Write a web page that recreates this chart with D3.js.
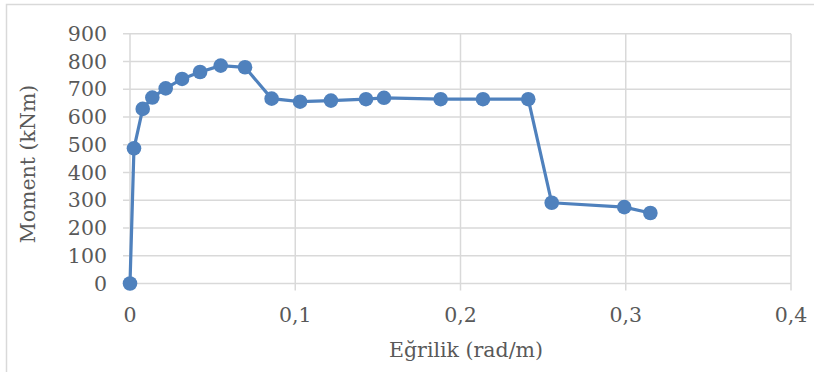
<!DOCTYPE html>
<html>
<head>
<meta charset="utf-8">
<script src="https://cdn.jsdelivr.net/npm/d3@7"></script>
<style>
  body { margin: 0; background: #fff; }
  text { font-family: "DejaVu Serif", "Liberation Serif", serif; fill: #595959; }
</style>
</head>
<body>
<svg id="chart" width="814" height="372"></svg>
<script>
// curvature (rad/m) and moment (kNm)
var curvature = [0, 0.0024, 0.0077, 0.0135, 0.0216, 0.0315, 0.0424, 0.0549, 0.0696, 0.0857,
                 0.1029, 0.1216, 0.1428, 0.1537, 0.1880, 0.2136, 0.2410, 0.2552, 0.2991, 0.3149]
var moment = [0, 487, 629, 670, 703, 737, 762, 785, 779, 666,
              655, 659, 664, 669, 664, 664, 664, 291, 275, 254]
var xTicks = [0, 0.1, 0.2, 0.3, 0.4]
var yTicks = [0, 100, 200, 300, 400, 500, 600, 700, 800, 900]

var svg = d3.select("#chart")

// chart border (right and bottom edges fall outside the picture)
svg.append("rect")
  .attr("x", 6.5).attr("y", 4.5)
  .attr("width", 820).attr("height", 380)
  .attr("fill", "none").attr("stroke", "#d9d9d9").attr("stroke-width", 1.5)

var x = d3.scaleLinear().domain([0, 0.4]).range([130, 791])
var y = d3.scaleLinear().domain([0, 900]).range([283.5, 33.7])

var fmt = function(d) { return d === 0 ? "0" : String(d3.format(".1f")(d)).replace(".", ",") }

// horizontal gridlines
svg.append("g").selectAll("line")
  .data(yTicks)
  .enter().append("line")
  .attr("x1", 123).attr("x2", x(0.4))
  .attr("y1", function(d) { return y(d) }).attr("y2", function(d) { return y(d) })
  .attr("stroke", "#d9d9d9").attr("stroke-width", 1.5)

// vertical gridlines
svg.append("g").selectAll("line")
  .data(xTicks)
  .enter().append("line")
  .attr("x1", function(d) { return x(d) }).attr("x2", function(d) { return x(d) })
  .attr("y1", y(900)).attr("y2", y(0) + 7)
  .attr("stroke", "#d9d9d9").attr("stroke-width", 1.5)

// y tick labels
svg.append("g").selectAll("text")
  .data(yTicks)
  .enter().append("text")
  .attr("x", 107).attr("y", function(d) { return y(d) })
  .attr("dy", "0.35em")
  .attr("text-anchor", "end")
  .style("font-size", "20.5px")
  .text(function(d) { return d })

// x tick labels
svg.append("g").selectAll("text")
  .data(xTicks)
  .enter().append("text")
  .attr("x", function(d) { return x(d) }).attr("y", 315)
  .attr("dy", "0.35em")
  .attr("text-anchor", "middle")
  .style("font-size", "20.5px")
  .text(fmt)

// axis titles
svg.append("text")
  .attr("transform", "translate(28,164) rotate(-90)")
  .attr("dy", "0.35em")
  .attr("text-anchor", "middle")
  .style("font-size", "20.5px")
  .text("Moment (kNm)")

svg.append("text")
  .attr("x", 466).attr("y", 350)
  .attr("dy", "0.35em")
  .attr("text-anchor", "middle")
  .style("font-size", "20.5px")
  .text("Eğrilik (rad/m)")

var points = d3.range(curvature.length).map(function(i) { return [curvature[i], moment[i]] })

var line = d3.line()
  .x(function(d) { return x(d[0]) })
  .y(function(d) { return y(d[1]) })

svg.append("path")
  .datum(points)
  .attr("d", line)
  .attr("fill", "none")
  .attr("stroke", "#4f81bd")
  .attr("stroke-width", 3.2)
  .attr("stroke-linejoin", "round")

svg.append("g").selectAll("circle")
  .data(points)
  .enter().append("circle")
  .attr("cx", function(d) { return x(d[0]) })
  .attr("cy", function(d) { return y(d[1]) })
  .attr("r", 7.3)
  .attr("fill", "#4f81bd")
</script>
</body>
</html>
